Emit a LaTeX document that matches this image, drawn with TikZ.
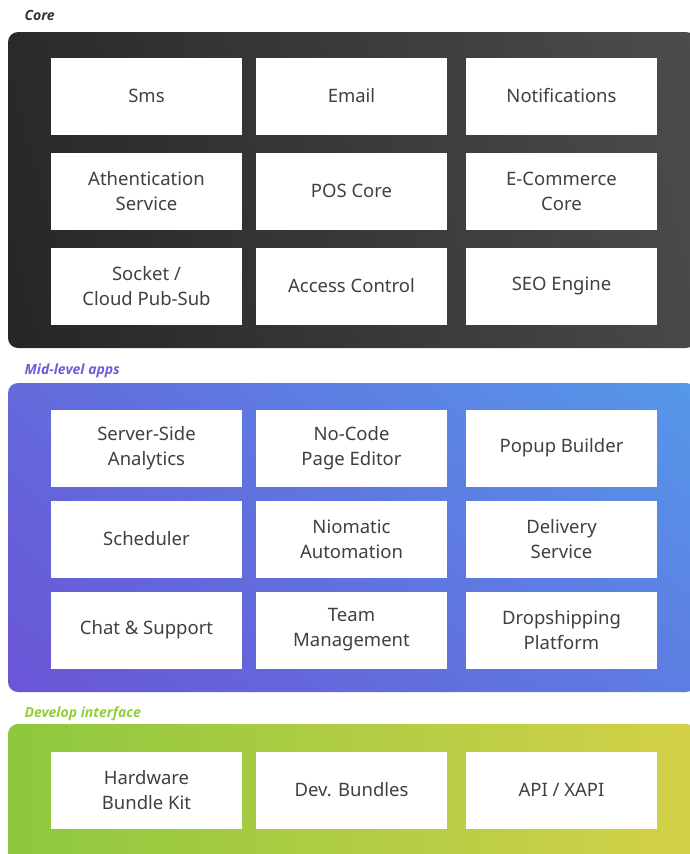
\documentclass[tikz,border=0pt]{standalone}
\usepackage{fontspec}
\setmainfont{Noto Sans}
\newfontfamily\headfont{Open Sans}
\usetikzlibrary{positioning,shadings}
\definecolor{txt}{HTML}{404040}
\definecolor{coreA}{HTML}{2A2A2A}
\definecolor{coreB}{HTML}{4C4C4C}
\definecolor{midA}{HTML}{6A55D6}
\definecolor{midB}{HTML}{5598EA}
\definecolor{devA}{HTML}{8DC83F}
\definecolor{devB}{HTML}{D4D148}
\definecolor{corelbl}{HTML}{333333}
\definecolor{midlbl}{HTML}{6A5FD8}
\definecolor{devlbl}{HTML}{92CD3A}
\tikzset{
  panel/.style={rounded corners=10pt},
  cell/.style={fill=white, draw=none, minimum width=191pt, minimum height=77pt,
    inner sep=0pt, align=center, text=txt, font=\fontsize{18.5}{25}\selectfont},
  heading/.style={anchor=west, font=\headfont\fontsize{14}{16}\selectfont\bfseries\itshape},
}
\begin{document}
\begin{tikzpicture}[x=1pt, y=-1pt]
\useasboundingbox (0,0) rectangle (689,854);
\fill[white] (0,0) rectangle (689,854);

% section headings
\node[heading, text=corelbl] (hcore) at (21,15) {Core};
\node[heading, text=midlbl] (hmid) at (21,371) {Mid-level apps};
\node[heading, text=devlbl] (hdev) at (21,714) {Develop interface};

% panels
\shade[panel, lower left=coreA!90!black, upper left=coreA, lower right=coreB!95!black, upper right=coreB] (8,32) rectangle (696,348);
\shade[panel, lower left=midA, upper left=midA!70!midB, lower right=midA!40!midB, upper right=midB] (8,383) rectangle (696,692);
\shade[panel, left color=devA, right color=devB] (8,724) rectangle (696,870);

% core services
\node[cell] (sms)   at (146.5,96)  {Sms};
\node[cell] (email) at (351.5,96)  {Email};
\node[cell] (notif) at (561.5,96)  {Notifications};
\node[cell] (auth)  at (146.5,191) {Athentication\\Service};
\node[cell] (pos)   at (351.5,191) {POS Core};
\node[cell] (ecom)  at (561.5,191) {E-Commerce\\Core};
\node[cell] (sock)  at (146.5,286) {Socket /\\Cloud Pub-Sub};
\node[cell] (acl)   at (351.5,286) {Access Control};
\node[cell] (seo)   at (561.5,286) {SEO Engine};

% mid-level apps
\node[cell] (ssa)   at (146.5,448) {Server-Side\\Analytics};
\node[cell] (nocode) at (351.5,448) {No-Code\\Page Editor};
\node[cell] (popup) at (561.5,448) {Popup Builder};
\node[cell] (sched) at (146.5,539) {Scheduler};
\node[cell] (auto)  at (351.5,539) {Niomatic\\Automation};
\node[cell] (deliv) at (561.5,539) {Delivery\\Service};
\node[cell] (chat)  at (146.5,630) {Chat \& Support};
\node[cell] (team)  at (351.5,630) {Team\\Management};
\node[cell] (drop)  at (561.5,630) {Dropshipping\\Platform};

% developer interface
\node[cell] (hw)    at (146.5,790) {Hardware\\Bundle Kit};
\node[cell] (bund)  at (351.5,790) {Dev. Bundles};
\node[cell] (api)   at (561.5,790) {API / XAPI};
\end{tikzpicture}
\end{document}
